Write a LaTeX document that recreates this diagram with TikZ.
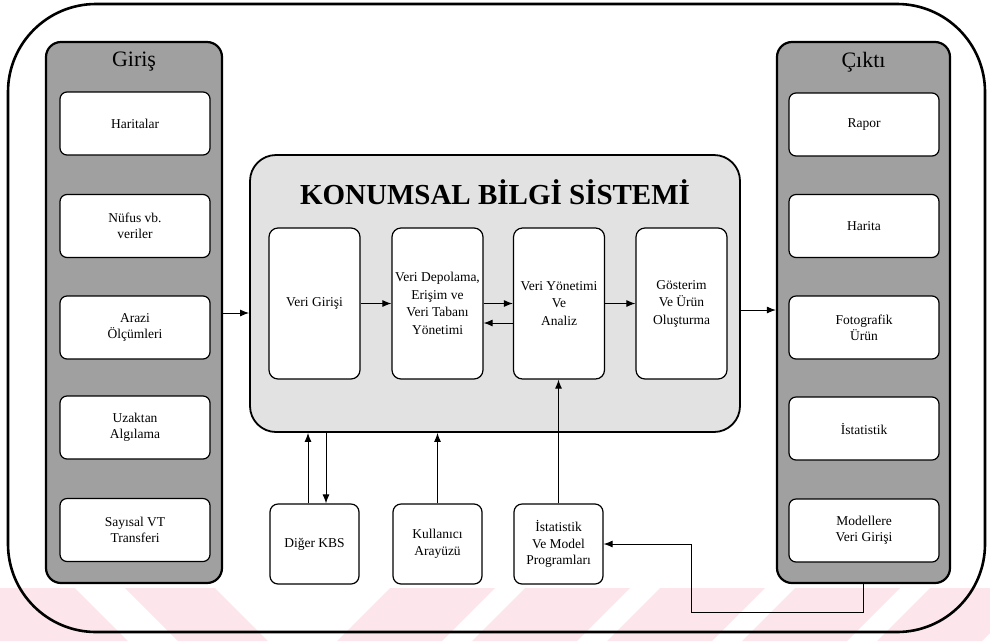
\documentclass[tikz,border=0pt]{standalone}
\usepackage{fontspec}
\setmainfont{Liberation Serif}
\usetikzlibrary{arrows.meta}

\definecolor{wmark}{RGB}{252,230,235}
\definecolor{panelgray}{RGB}{160,160,160}
\definecolor{coregray}{RGB}{226,226,226}

\tikzset{
  frame/.style={draw, line width=2.6pt, rounded corners=88pt, minimum width=977pt, minimum height=628pt, inner sep=0pt},
  panel/.style={draw, line width=2.2pt, fill=panelgray, rounded corners=15pt, inner sep=0pt},
  corepanel/.style={draw, line width=1.8pt, fill=coregray, rounded corners=26pt, inner sep=0pt,
                    minimum width=490pt, minimum height=277pt},
  item/.style={draw, line width=1.2pt, fill=white, rounded corners=7pt, inner sep=1pt, align=center,
               minimum width=150pt, minimum height=63pt, font=\fontsize{13.5}{16}\selectfont},
  stage/.style={draw, line width=1.2pt, fill=white, rounded corners=9pt, inner sep=0pt, align=center,
                minimum width=91pt, minimum height=151pt, font=\fontsize{13.5}{17.5}\selectfont},
  extbox/.style={draw, line width=1.2pt, fill=white, rounded corners=8pt, inner sep=1pt, align=center,
                 minimum width=89pt, minimum height=80pt, font=\fontsize{13.5}{16.5}\selectfont},
  paneltitle/.style={font=\fontsize{22}{24}\selectfont},
  arr/.style={-{Latex[length=9pt,width=7pt]}, line width=1pt},
}

\begin{document}
\begin{tikzpicture}[x=1pt,y=-1pt]
\useasboundingbox (0,0) rectangle (990,641);

% faint diagonal stripes along the bottom edge
\begin{scope}
  \clip (0,588) rectangle (990,641);
  \foreach \a/\b in {-60/75, 125/215}
    \fill[wmark] (\a,588) -- (\b,588) -- (\b+53,641) -- (\a+53,641) -- cycle;
  \foreach \a in {390, 525, 660, 795, 930}
    \fill[wmark] (\a,588) -- (\a+105,588) -- (\a+52,641) -- (\a-53,641) -- cycle;
\end{scope}

% outer frame
\node[frame] (frame) at (496.5,318) {};

% input column
\node[panel, minimum width=176pt, minimum height=541pt] (giris) at (134,312.5) {};
\node[paneltitle] (girist) at (134,62) {Giriş};
\node[item] (in1) at (135,123.5) {Haritalar};
\node[item] (in2) at (135,226) {Nüfus vb.\\veriler};
\node[item] (in3) at (135,327.5) {Arazi\\Ölçümleri};
\node[item] (in4) at (135,427.5) {Uzaktan\\Algılama};
\node[item] (in5) at (135,530) {Sayısal VT\\Transferi};

% output column
\node[panel, minimum width=173pt, minimum height=541pt] (cikti) at (863.5,312.5) {};
\node[paneltitle] (ciktit) at (863.5,62) {Çıktı};
\node[item] (out1) at (864,124.5) {Rapor};
\node[item] (out2) at (864,226) {Harita};
\node[item] (out3) at (864,327.5) {Fotografik\\Ürün};
\node[item] (out4) at (864,428.5) {İstatistik};
\node[item] (out5) at (864,530.5) {Modellere\\Veri Girişi};

% central system
\node[corepanel] (kbs) at (495,293.5) {};
\node[font=\fontsize{29}{32}\selectfont\bfseries] (kbst) at (495,192) {KONUMSAL BİLGİ SİSTEMİ};
\node[stage] (s1) at (314.5,303.5) {Veri Girişi};
\node[stage] (s2) at (437.5,303.5) {Veri Depolama,\\Erişim ve\\Veri Tabanı\\Yönetimi};
\node[stage] (s3) at (559,303.5) {Veri Yönetimi\\Ve\\Analiz};
\node[stage] (s4) at (681.5,303.5) {Gösterim\\Ve Ürün\\Oluşturma};

% external components
\node[extbox] (diger) at (314.5,544) {Diğer KBS};
\node[extbox] (kul) at (437.5,544) {Kullanıcı\\Arayüzü};
\node[extbox] (ist) at (558.5,544) {İstatistik\\Ve Model\\Programları};

% flow inside the system
\draw[arr] (s1.east) -- (s2.west);
\draw[arr] (s2.east) -- (s3.west);
\draw[arr] ([yshift=-19.5pt]s3.west) -- ([yshift=-19.5pt]s2.east);
\draw[arr] (s3.east) -- (s4.west);

% input and output
\draw[arr] (giris.east |- 0,313) -- (kbs.west |- 0,313);
\draw[arr] (kbs.east |- 0,310) -- (cikti.west |- 0,310);

% links to external components
\draw[arr] ([xshift=-6.5pt]diger.north) -- ([xshift=-6.5pt]diger.north |- kbs.south);
\draw[arr] ([xshift=11.5pt]diger.north |- kbs.south) -- ([xshift=11.5pt]diger.north);
\draw[arr] (kul.north) -- (kul.north |- kbs.south);
\draw[arr] (ist.north) -- (ist.north |- s3.south);
\draw[arr] (cikti.south) |- (691,612) |- (ist.east);
\end{tikzpicture}
\end{document}
